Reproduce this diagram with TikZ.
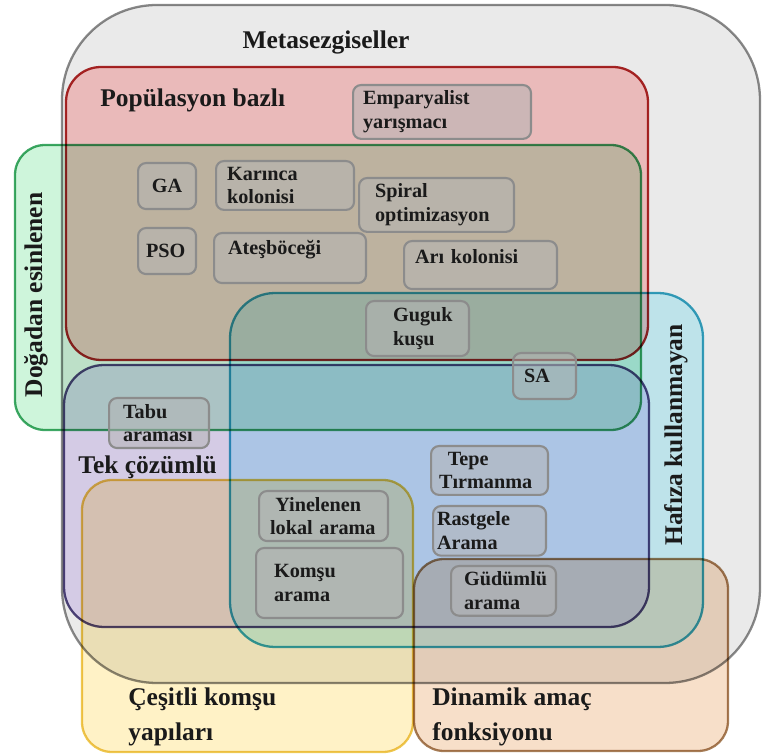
\documentclass[tikz,border=0pt]{standalone}
\usepackage{fontspec}
\setmainfont{Liberation Serif}
\definecolor{griDolgu}{HTML}{EAEAEA}
\definecolor{griCizgi}{HTML}{8A8A8A}
\definecolor{kirmiziDolgu}{HTML}{FFCBCB}
\definecolor{kirmiziCizgi}{HTML}{B22A2A}
\definecolor{yesilDolgu}{HTML}{CEF5DB}
\definecolor{yesilCizgi}{HTML}{3FA866}
\definecolor{maviDolgu}{HTML}{D0F8FF}
\definecolor{maviCizgi}{HTML}{3BA9C6}
\definecolor{morDolgu}{HTML}{E8DEFA}
\definecolor{morCizgi}{HTML}{544A80}
\definecolor{sariDolgu}{HTML}{FFF2C6}
\definecolor{sariCizgi}{HTML}{EDC851}
\definecolor{kahveDolgu}{HTML}{F7DFC9}
\definecolor{kahveCizgi}{HTML}{A67E58}
\definecolor{kutuDolgu}{HTML}{B4B4B4}
\definecolor{kutuCizgi}{HTML}{8C8C8C}
\definecolor{yaziSiyah}{HTML}{1A1A1A}

\begin{document}
\begin{tikzpicture}[x=0.02cm,y=-0.02cm,
  bolge/.style={line width=1.3pt,blend mode=multiply},
  kutu/.style={draw=kutuCizgi,fill=kutuDolgu,fill opacity=0.55,text opacity=1,
    line width=1.2pt,rounded corners=0.16cm,anchor=north west,align=left,
    inner xsep=0.22cm,text=yaziSiyah,font=\fontsize{11.5}{13.5}\selectfont\bfseries},
  baslik/.style={inner sep=0pt,text=yaziSiyah,font=\fontsize{14.5}{20}\selectfont\bfseries}]
\useasboundingbox (0,0) rectangle (762,756);
% Metasezgiseller
\draw[bolge,draw=griCizgi,fill=griDolgu,rounded corners=1.9cm] (62,5) rectangle (760,683);
% Popülasyon bazli
\draw[bolge,draw=kirmiziCizgi,fill=kirmiziDolgu,rounded corners=0.7cm] (66,67) rectangle (648,360);
% Doğadan esinlenen
\draw[bolge,draw=yesilCizgi,fill=yesilDolgu,rounded corners=0.6cm] (15,145) rectangle (641,430);
% Hafiza kullanmayan
\draw[bolge,draw=maviCizgi,fill=maviDolgu,rounded corners=0.9cm] (230,293) rectangle (703,647);
% Tek çözümlü
\draw[bolge,draw=morCizgi,fill=morDolgu,rounded corners=0.8cm] (64,365) rectangle (649,627);
% Çeşitli komşu yapilari
\draw[bolge,draw=sariCizgi,fill=sariDolgu,rounded corners=0.6cm] (82,480) rectangle (413,752);
% Dinamik amaç fonksiyonu
\draw[bolge,draw=kahveCizgi,fill=kahveDolgu,rounded corners=0.6cm] (414,559) rectangle (728,751);

% algoritmalar
\node[kutu,text width=3.16cm,minimum height=0.94cm,inner xsep=0.2cm] (emp) at (352,84) {Emparyalist\\yarışmacı};
\node[kutu,text width=0.76cm,minimum height=0.92cm,inner xsep=0.2cm,align=center] (ga) at (137,162) {GA};
\node[kutu,text width=2.32cm,minimum height=0.96cm] (karinca) at (215,160) {Karınca\\kolonisi};
\node[kutu,text width=2.46cm,minimum height=0.9cm,inner xsep=0.32cm] (spiral) at (358,177) {Spiral\\optimizasyon};
\node[kutu,text width=0.84cm,minimum height=0.92cm,inner xsep=0.16cm] (pso) at (137,227) {PSO};
\node[kutu,text width=2.48cm,minimum height=1.0cm,inner xsep=0.28cm,text depth=12pt] (atesbocegi) at (213,232) {Ateşböceği};
\node[kutu,text width=2.62cm,minimum height=0.96cm,text depth=10pt] (ari) at (403,240) {Arı kolonisi};
\node[kutu,text width=0.98cm,minimum height=1.1cm,inner xsep=0.54cm] (guguk) at (365,300) {Guguk\\kuşu};
\node[kutu,text width=0.82cm,minimum height=0.92cm] (sa) at (512,352) {SA};
\node[kutu,text width=1.44cm,minimum height=1.0cm,inner xsep=0.28cm] (tabu) at (108,397) {Tabu\\araması};
\node[kutu,text width=2.02cm,minimum height=0.96cm,inner xsep=0.16cm] (tepe) at (430,445) {\hspace*{5pt}Tepe\\Tırmanma};
\node[kutu,text width=2.14cm,minimum height=1.0cm,inner xsep=0.22cm] (yinelenen) at (258,490) {\hspace*{3pt}Yinelenen\\lokal arama};
\node[kutu,text width=2.1cm,minimum height=0.94cm,inner xsep=0.08cm] (rastgele) at (432,505) {Rastgele\\Arama};
\node[kutu,text width=2.22cm,minimum height=1.4cm,inner xsep=0.36cm] (komsu) at (255,547) {Komşu\\arama};
\node[kutu,text width=1.58cm,minimum height=0.96cm,inner xsep=0.26cm] (gudumlu) at (450,565) {Güdümlü\\arama};

% basliklar
\node[baslik] (meta) at (326,42) {Metasezgiseller};
\node[baslik,anchor=west] (populasyon) at (100,100) {Popülasyon bazlı};
\node[baslik,rotate=90] (doga) at (36,295) {Doğadan esinlenen};
\node[baslik,rotate=90] (hafiza) at (676,435) {Hafıza kullanmayan};
\node[baslik,anchor=west] (tek) at (78,467) {Tek çözümlü};
\node[baslik,anchor=west,align=left] (cesitli) at (128,717) {Çeşitli komşu\\yapıları};
\node[baslik,anchor=west,align=left] (dinamik) at (432,717) {Dinamik amaç\\fonksiyonu};
\end{tikzpicture}
\end{document}
